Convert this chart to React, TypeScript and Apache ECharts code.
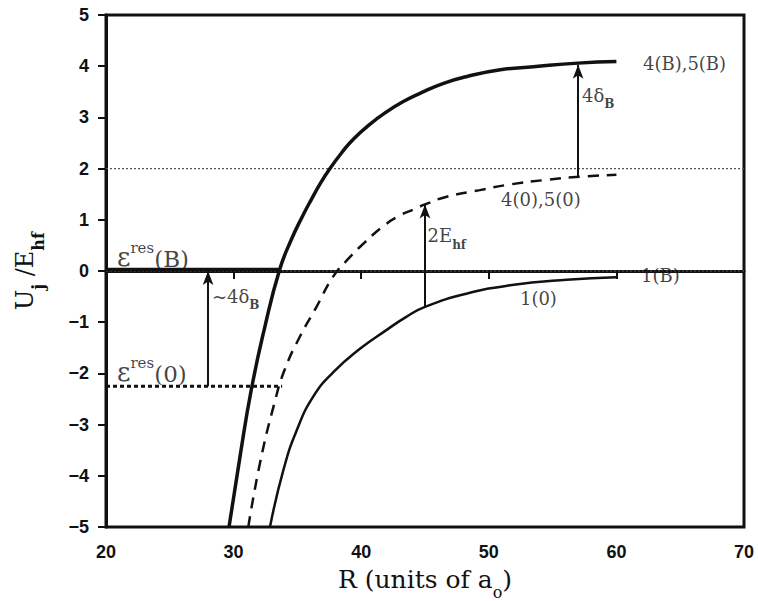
import { useEffect, useRef } from "react";
import * as echarts from "echarts";

// ---- data (R in units of a0, U_j / E_hf) ----
const curve4B5B: [number, number][] = [
  [29.64, -5], [30.5, -3.63], [31.4, -2.3], [32.45, -1.09], [33.6, 0.02], [34.5, 0.6],
  [35.4, 1.07], [36.1, 1.4], [36.8, 1.71], [37.55, 2.0], [38.5, 2.32], [39.4, 2.58],
  [40.7, 2.87], [42.0, 3.11], [43.3, 3.31], [44.6, 3.47], [46.4, 3.66], [48.3, 3.8],
  [50.9, 3.93], [53.5, 3.99], [57.0, 4.06], [60.0, 4.09],
];
const curve4050: [number, number][] = [
  [31.15, -5], [32.07, -3.75], [33.2, -2.58], [34.0, -1.93], [35.2, -1.28], [36.5, -0.7],
  [37.8, -0.11], [39.0, 0.24], [40.2, 0.54], [41.7, 0.87], [43.0, 1.08], [44.1, 1.2],
  [45.0, 1.3], [46.7, 1.45], [49.3, 1.58], [51.4, 1.68], [54.5, 1.78], [57.1, 1.84],
  [60.0, 1.88],
];
const curve10: [number, number][] = [
  [32.85, -5], [33.9, -3.89], [34.95, -3.11], [36.25, -2.45], [37.8, -1.98], [39.9, -1.52],
  [42.0, -1.15], [43.5, -0.9], [45.0, -0.7], [48.3, -0.44], [51.66, -0.28], [56.1, -0.17],
  [60.0, -0.12],
];
const resB: [number, number][] = [[20, 0.03], [33.6, 0.03]];
const res0: [number, number][] = [[20, -2.25], [33.8, -2.25]];
const ref2: [number, number][] = [[20, 2], [70, 2]];
const ref0: [number, number][] = [[20, 0], [70, 0]];
const arrowX = [28, 45, 57];
const arrowFrom = [-2.25, -0.7, 1.84];
const arrowTo = [0.0, 1.3, 4.03];

const xTicks = [20, 30, 40, 50, 60, 70];
const yTicks = [-5, -4, -3, -2, -1, 0, 1, 2, 3, 4, 5];

const labelText = [
  "{m|4(B),5(B)}",
  "{m|4(0),5(0)}",
  "{m|1(B)}",
  "{m|1(0)}",
  "{eps|ε}{sup|res}{par|(B)}",
  "{eps|ε}{sup|res}{par|(0)}",
  "{a|~4δ}{s|B}",
  "{a|2E}{s|hf}",
  "{a|4δ}{s|B}",
];
const labelR = [62.08, 50.96, 61.93, 52.44, 20.86, 20.86, 28.3, 45.2, 57.3];
const labelU = [4.05, 1.39, -0.08, -0.53, 0.31, -1.94, -0.55, 0.63, 3.37];

const SERIF = "DejaVu Serif";
const SANS = "Liberation Sans";
const INK = "#111";

export default function App() {
  const ref = useRef<HTMLDivElement>(null);
  useEffect(() => {
    if (!ref.current) return;
    const chart = echarts.init(ref.current, null, { renderer: "svg" });
    const line = (data: [number, number][], width: number, type: any, color = INK, smooth: any = 0.5) => ({
      type: "line",
      data,
      showSymbol: false,
      symbol: "none",
      smooth,
      silent: true,
      lineStyle: { color, width, type },
      z: 3,
    });
    const fmt = (v: number) => (v < 0 ? "−" + Math.abs(v) : String(v));
    chart.setOption({
      animation: false,
      backgroundColor: "#fff",
      grid: {
        left: 106, top: 15, right: 14, bottom: 74,
        containLabel: false, outerBoundsMode: "none",
        show: true, borderColor: INK, borderWidth: 3,
      },
      xAxis: {
        type: "value", min: 20, max: 70, interval: 10,
        name: "{m|R (units of a}{s|o}{m|)}",
        nameLocation: "middle", nameGap: 40,
        nameTextStyle: {
          rich: {
            m: { fontFamily: SERIF, fontSize: 25, lineHeight: 33, verticalAlign: "top", color: INK },
            s: { fontFamily: SERIF, fontSize: 16, lineHeight: 33, verticalAlign: "bottom", color: INK },
          },
        },
        axisLine: { lineStyle: { color: INK, width: 3 } },
        axisTick: { show: true, inside: false, length: 8, lineStyle: { color: INK, width: 2 } },
        axisLabel: {
          margin: 16, color: INK, fontFamily: SANS, fontWeight: "bold", fontSize: 18,
          formatter: (v: number) => (xTicks.includes(v) ? fmt(v) : ""),
        },
        splitLine: { show: false },
      },
      yAxis: {
        type: "value", min: -5, max: 5, interval: 1,
        name: "{m|U}{s|j}{m| /E}{s|hf}",
        nameLocation: "middle", nameGap: 60, nameRotate: 90,
        nameTextStyle: {
          rich: {
            m: { fontFamily: SERIF, fontSize: 24, lineHeight: 33, verticalAlign: "top", color: INK },
            s: { fontFamily: SERIF, fontSize: 16, lineHeight: 33, verticalAlign: "bottom", fontWeight: "bold", color: INK },
          },
        },
        axisLine: { lineStyle: { color: INK, width: 3 } },
        axisTick: { show: true, inside: false, length: 8, lineStyle: { color: INK, width: 2 } },
        axisLabel: {
          margin: 17, color: INK, fontFamily: SANS, fontWeight: "bold", fontSize: 18,
          formatter: (v: number) => (yTicks.includes(v) ? fmt(v) : ""),
        },
        splitLine: { show: false },
      },
      series: [
        line(ref2, 1.2, [2, 2], "#555", false),
        line(ref0, 1.2, [2, 2], "#555", false),
        line(resB, 3.5, "solid", INK, false),
        line(res0, 3, [4, 3], INK, false),
        line(curve4B5B, 3.5, "solid"),
        line(curve4050, 2.5, [11, 8]),
        line(curve10, 2.5, "solid"),
        {
          type: "line",
          data: [],
          silent: true,
          markLine: {
            silent: true,
            symbol: ["none", "arrow"],
            symbolSize: [8, 14],
            label: { show: false },
            lineStyle: { color: INK, width: 2, type: "solid" },
            data: arrowX.map((x, i) => [
              { coord: [x, arrowFrom[i]] },
              { coord: [x, arrowTo[i]] },
            ]),
          },
        },
        {
          type: "scatter",
          symbolSize: 0,
          silent: true,
          z: 5,
          data: labelText.map((t, i) => ({
            value: [labelR[i], labelU[i]],
            label: { formatter: t },
          })),
          label: {
            show: true,
            position: "right",
            distance: 0,
            color: INK,
            rich: {
              m: { fontFamily: SERIF, fontSize: 18, color: INK },
              eps: { fontFamily: SERIF, fontSize: 26, lineHeight: 30, verticalAlign: "bottom", color: INK },
              par: { fontFamily: SERIF, fontSize: 23, lineHeight: 30, verticalAlign: "bottom", color: INK },
              sup: { fontFamily: SERIF, fontSize: 15, lineHeight: 14, verticalAlign: "top", color: INK },
              a: { fontFamily: SERIF, fontSize: 18, lineHeight: 24, verticalAlign: "top", color: INK },
              s: { fontFamily: SERIF, fontSize: 12, lineHeight: 24, verticalAlign: "bottom", fontWeight: "bold", color: INK },
            },
          },
        },
      ],
    });
    return () => chart.dispose();
  }, []);
  return <div ref={ref} style={{ position: "fixed", left: 0, top: 0, width: 758, height: 601 }} />;
}
